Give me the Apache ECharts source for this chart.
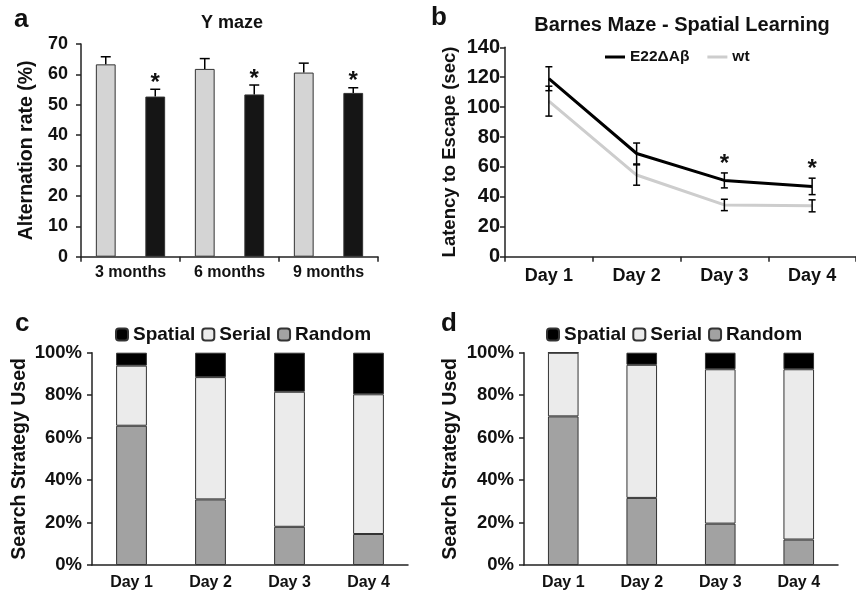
<!DOCTYPE html>
<html>
<head>
<meta charset="utf-8">
<script src="https://cdn.jsdelivr.net/npm/echarts@6/dist/echarts.min.js"></script>
<style>html,body{margin:0;padding:0;background:#fff}#c{width:856px;height:594px}</style>
</head>
<body>
<div id="c"></div>
<script>
// ---- Panel a: Y maze ----
const catA = ['3 months', '6 months', '9 months'];
const wtA = [63.3, 61.8, 60.6];
const wtAErr = [2.5, 3.4, 3.1];
const tgA = [52.7, 53.4, 53.9];
const tgAErr = [2.4, 3.1, 1.7];
const sigA = ['*', '*', '*'];
const ticksA = [0, 10, 20, 30, 40, 50, 60, 70];

// ---- Panel b: Barnes maze ----
const daysB = ['Day 1', 'Day 2', 'Day 3', 'Day 4'];
const tgB = [119, 69, 51, 47];
const tgBErr = [8, 7, 5, 5.5];
const wtB = [104, 54.6, 34.6, 34];
const wtBErr = [10, 6.8, 3.8, 4];
const sigB = ['', '', '*', '*'];
const ticksB = [0, 20, 40, 60, 80, 100, 120, 140];

// ---- Panels c, d: search strategy ----
const daysCD = ['Day 1', 'Day 2', 'Day 3', 'Day 4'];
const randomC = [65.6, 30.9, 18.0, 14.6];
const serialC = [28.3, 57.6, 63.6, 65.8];
const spatialC = [6.1, 11.5, 18.4, 19.6];
const randomD = [70.0, 31.6, 19.5, 12.0];
const serialD = [30.0, 62.7, 72.7, 80.2];
const spatialD = [0, 5.7, 7.8, 7.8];
const ticksCD = ['0%', '20%', '40%', '60%', '80%', '100%'];

const FF = '"Liberation Sans", Arial, sans-serif';
const TXT = '#111';
const AX = '#222';

function axisCommon(fontSize, margin) {
  return {
    axisLine: { show: true, lineStyle: { color: AX, width: 1.5 } },
    axisTick: { show: true, length: 5, lineStyle: { color: AX, width: 1.5 } },
    axisLabel: { color: TXT, fontFamily: FF, fontWeight: 'bold', fontSize: fontSize, margin: margin },
    splitLine: { show: false }
  };
}

function errBarRender(sig, offsetFrac, capHalf, sigOffset, upOnly) {
  return function (params, api) {
    const i = api.value(0);
    const v = api.value(1);
    const e = api.value(2);
    const band = api.size([1, 0])[0];
    const dx = band * offsetFrac;
    const top = api.coord([i, v + e]);
    const bot = api.coord(upOnly ? [i, v] : [i, v - e]);
    const x = top[0] + dx;
    const st = { stroke: '#000', lineWidth: 1.5 };
    const ch = [
      { type: 'line', shape: { x1: x, y1: top[1], x2: x, y2: bot[1] }, style: st },
      { type: 'line', shape: { x1: x - capHalf, y1: top[1], x2: x + capHalf, y2: top[1] }, style: st }
    ];
    if (!upOnly) ch.push({ type: 'line', shape: { x1: x - capHalf, y1: bot[1], x2: x + capHalf, y2: bot[1] }, style: st });
    if (sig && sig[i]) {
      ch.push({ type: 'text', style: { text: sig[i], x: x, y: top[1] - sigOffset, align: 'center', verticalAlign: 'middle', fontFamily: FF, fontWeight: 'bold', fontSize: 24, fill: TXT } });
    }
    return { type: 'group', children: ch };
  };
}

const chart = echarts.init(document.getElementById('c'));

const stackStyle = (color) => ({ color: color, borderColor: '#333', borderWidth: 1 });

const option = {
  animation: false,
  backgroundColor: '#fff',
  title: [
    { text: 'Y maze', left: 227, top: 9, textAlign: 'center', textStyle: { fontFamily: FF, fontWeight: 'bold', fontSize: 18, color: TXT } },
    { text: 'Barnes Maze - Spatial Learning', left: 677, top: 10, textAlign: 'center', textStyle: { fontFamily: FF, fontWeight: 'bold', fontSize: 20, color: TXT } },
    { text: 'a', left: 9, top: 2, textStyle: { fontFamily: FF, fontWeight: 'bold', fontSize: 26, color: TXT } },
    { text: 'b', left: 426, top: 0, textStyle: { fontFamily: FF, fontWeight: 'bold', fontSize: 26, color: TXT } },
    { text: 'c', left: 10, top: 306, textStyle: { fontFamily: FF, fontWeight: 'bold', fontSize: 26, color: TXT } },
    { text: 'd', left: 436, top: 306, textStyle: { fontFamily: FF, fontWeight: 'bold', fontSize: 26, color: TXT } }
  ],
  legend: [
    { data: ['E22ΔAβ', 'wt'], left: 600, top: 44, icon: 'rect', itemWidth: 20, itemHeight: 3, itemGap: 18,
      textStyle: { fontFamily: FF, fontWeight: 'bold', fontSize: 15.5, color: TXT } },
    { data: ['Spatial', 'Serial', 'Random'], left: 110, top: 320, itemWidth: 12, itemHeight: 12, itemGap: 6,
      textStyle: { fontFamily: FF, fontWeight: 'bold', fontSize: 19, color: TXT } },
    { data: ['Spatial ', 'Serial ', 'Random '], left: 541, top: 320, itemWidth: 12, itemHeight: 12, itemGap: 6,
      formatter: (n) => n.trim(),
      textStyle: { fontFamily: FF, fontWeight: 'bold', fontSize: 19, color: TXT } }
  ],
  grid: [
    { left: 81, top: 44, width: 297, height: 212.7 },
    { left: 505, top: 47.3, width: 360, height: 209.4 },
    { left: 92, top: 352.7, width: 316, height: 212.3 },
    { left: 524, top: 352.7, width: 314, height: 212.3 }
  ],
  xAxis: [
    Object.assign(axisCommon(16, 8), { gridIndex: 0, type: 'category', data: catA }),
    Object.assign(axisCommon(18, 10), { gridIndex: 1, type: 'category', data: daysB }),
    Object.assign(axisCommon(16, 10), { gridIndex: 2, type: 'category', data: daysCD, axisTick: { show: false } }),
    Object.assign(axisCommon(16, 10), { gridIndex: 3, type: 'category', data: daysCD, axisTick: { show: false } })
  ],
  yAxis: [
    Object.assign(axisCommon(18, 13), { gridIndex: 0, type: 'value', min: ticksA[0], max: ticksA[ticksA.length - 1], interval: 10,
      name: 'Alternation rate (%)', nameLocation: 'middle', nameGap: 44, nameRotate: 90,
      nameTextStyle: { fontFamily: FF, fontWeight: 'bold', fontSize: 19.5, color: TXT } }),
    Object.assign(axisCommon(20, 5), { gridIndex: 1, type: 'value', min: ticksB[0], max: ticksB[ticksB.length - 1], interval: 20,
      name: 'Latency to Escape (sec)', nameLocation: 'middle', nameGap: 46, nameRotate: 90,
      nameTextStyle: { fontFamily: FF, fontWeight: 'bold', fontSize: 18.5, color: TXT } }),
    Object.assign(axisCommon(18.5, 10), { gridIndex: 2, type: 'value', min: 0, max: 100, interval: 20,
      axisLabel: { color: TXT, fontFamily: FF, fontWeight: 'bold', fontSize: 18.5, margin: 10, formatter: (v) => ticksCD[v / 20] },
      name: 'Search Strategy Used', nameLocation: 'middle', nameGap: 62, nameRotate: 90,
      nameTextStyle: { fontFamily: FF, fontWeight: 'bold', fontSize: 19.5, color: TXT } }),
    Object.assign(axisCommon(18.5, 10), { gridIndex: 3, type: 'value', min: 0, max: 100, interval: 20,
      axisLabel: { color: TXT, fontFamily: FF, fontWeight: 'bold', fontSize: 18.5, margin: 10, formatter: (v) => ticksCD[v / 20] },
      name: 'Search Strategy Used', nameLocation: 'middle', nameGap: 63, nameRotate: 90,
      nameTextStyle: { fontFamily: FF, fontWeight: 'bold', fontSize: 19.5, color: TXT } })
  ],
  series: [
    // panel a
    { type: 'bar', name: 'wtA', xAxisIndex: 0, yAxisIndex: 0, data: wtA, barGap: '150%', barCategoryGap: '30%',
      itemStyle: { color: '#d4d4d4', borderColor: '#333', borderWidth: 1 } },
    { type: 'bar', name: 'tgA', xAxisIndex: 0, yAxisIndex: 0, data: tgA,
      itemStyle: { color: '#151515', borderColor: '#333', borderWidth: 1 } },
    { type: 'custom', xAxisIndex: 0, yAxisIndex: 0, z: 5, renderItem: errBarRender(null, -0.25, 5, 0, true),
      data: catA.map((c, i) => [i, wtA[i], wtAErr[i]]) },
    { type: 'custom', xAxisIndex: 0, yAxisIndex: 0, z: 5, renderItem: errBarRender(sigA, 0.25, 5, 6, true),
      data: catA.map((c, i) => [i, tgA[i], tgAErr[i]]) },
    // panel b
    { type: 'line', name: 'wt', xAxisIndex: 1, yAxisIndex: 1, data: wtB, symbol: 'none',
      lineStyle: { color: '#cdcdcd', width: 3 }, itemStyle: { color: '#cdcdcd' } },
    { type: 'line', name: 'E22ΔAβ', xAxisIndex: 1, yAxisIndex: 1, data: tgB, symbol: 'none',
      lineStyle: { color: '#000', width: 3 }, itemStyle: { color: '#000' } },
    { type: 'custom', xAxisIndex: 1, yAxisIndex: 1, z: 5, renderItem: errBarRender(null, 0, 3.5, 0, false),
      data: daysB.map((d, i) => [i, wtB[i], wtBErr[i]]) },
    { type: 'custom', xAxisIndex: 1, yAxisIndex: 1, z: 5, renderItem: errBarRender(sigB, 0, 3.5, 9, false),
      data: daysB.map((d, i) => [i, tgB[i], tgBErr[i]]) },
    // panel c
    { type: 'bar', name: 'Random', xAxisIndex: 2, yAxisIndex: 2, stack: 'c', data: randomC, barCategoryGap: '61%', itemStyle: stackStyle('#a2a2a2') },
    { type: 'bar', name: 'Serial', xAxisIndex: 2, yAxisIndex: 2, stack: 'c', data: serialC, itemStyle: stackStyle('#ebebeb') },
    { type: 'bar', name: 'Spatial', xAxisIndex: 2, yAxisIndex: 2, stack: 'c', data: spatialC, itemStyle: stackStyle('#000') },
    // panel d
    { type: 'bar', name: 'Random ', xAxisIndex: 3, yAxisIndex: 3, stack: 'd', data: randomD, barCategoryGap: '61%', itemStyle: stackStyle('#a2a2a2') },
    { type: 'bar', name: 'Serial ', xAxisIndex: 3, yAxisIndex: 3, stack: 'd', data: serialD, itemStyle: stackStyle('#ebebeb') },
    { type: 'bar', name: 'Spatial ', xAxisIndex: 3, yAxisIndex: 3, stack: 'd', data: spatialD, itemStyle: stackStyle('#000') }
  ]
};
chart.setOption(option);
</script>
</body>
</html>
